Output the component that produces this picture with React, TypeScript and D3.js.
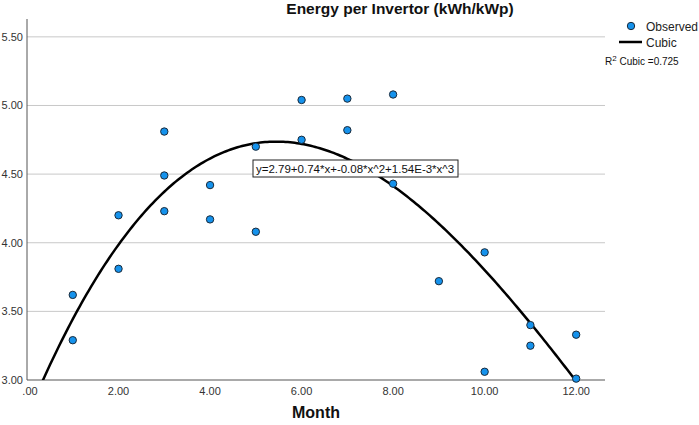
import React from 'react';
import * as d3 from 'd3';

const months = [1, 1, 2, 2, 3, 3, 3, 4, 4, 5, 5, 6, 6, 7, 7, 8, 8, 9, 10, 10, 11, 11, 12, 12];
const energy = [3.62, 3.29, 4.2, 3.81, 4.81, 4.49, 4.23, 4.42, 4.17, 4.7, 4.08, 5.04, 4.75, 5.05, 4.82, 5.08, 4.43, 3.72, 3.93, 3.06, 3.4, 3.25, 3.33, 3.01];
const xTicks = [0, 2, 4, 6, 8, 10, 12];
const yTicks = [3.0, 3.5, 4.0, 4.5, 5.0, 5.5];
const equationLabel = 'y=2.79+0.74*x+-0.08*x^2+1.54E-3*x^3';
const rSquared = '0.725';

const W = 699;
const H = 425;
const margin = { left: 27, top: 19, right: 94, bottom: 45 };
const font = '"Liberation Sans", Arial, sans-serif';

// least squares cubic, same as the SPSS curve fit
function fitCubic(xs: number[], ys: number[]) {
  const n = 4;
  const A: number[][] = Array.from({ length: n }, () => new Array(n + 1).fill(0));
  xs.forEach((x, k) => {
    for (let i = 0; i < n; i++) {
      for (let j = 0; j < n; j++) A[i][j] += Math.pow(x, i + j);
      A[i][n] += ys[k] * Math.pow(x, i);
    }
  });
  for (let c = 0; c < n; c++) {
    let p = c;
    for (let r = c + 1; r < n; r++) if (Math.abs(A[r][c]) > Math.abs(A[p][c])) p = r;
    [A[c], A[p]] = [A[p], A[c]];
    for (let r = 0; r < n; r++) {
      if (r === c) continue;
      const f = A[r][c] / A[c][c];
      for (let j = c; j <= n; j++) A[r][j] -= f * A[c][j];
    }
  }
  return A.map((row, i) => row[n] / row[i]);
}

export default function App() {
  const x = d3.scaleLinear().domain([0, 12.63]).range([margin.left, W - margin.right]);
  const y = d3.scaleLinear().domain([3.0, 5.63]).range([H - margin.bottom, margin.top]);

  const coef = fitCubic(months, energy);
  const curveXs = d3.range(0, 12.63, 0.05);
  const line = d3.line<number>()
    .x(d => x(d))
    .y(d => y(coef[0] + coef[1] * d + coef[2] * d * d + coef[3] * d * d * d));

  const [x0, x1] = x.range();
  const [y0, y1] = y.range();

  return (
    <svg width={W} height={H} style={{ position: 'absolute', left: 0, top: 0, background: '#fff' }} fontFamily={font}>
      <defs>
        <clipPath id="plot">
          <rect x={x0} y={y1} width={x1 - x0} height={y0 - y1} />
        </clipPath>
      </defs>
      <text x={400} y={14} textAnchor="middle" fontSize={15.5} fontWeight="bold" fill="#111">
        Energy per Invertor (kWh/kWp)
      </text>

      {yTicks.map(t => (
        <g key={t}>
          {t > 3 && <line x1={x0} x2={x1} y1={y(t)} y2={y(t)} stroke="#c8c8c8" strokeWidth={1} />}
          <text x={23} y={y(t)} dy="0.35em" textAnchor="end" fontSize={11} fill="#333">
            {t.toFixed(2)}
          </text>
        </g>
      ))}
      {xTicks.map(t => (
        <text key={t} x={x(t) + (t === 0 ? 3 : 0)} y={395} textAnchor="middle" fontSize={11} fill="#333">
          {t === 0 ? '.00' : t.toFixed(2)}
        </text>
      ))}

      <line x1={x0} x2={x0} y1={y1} y2={y0} stroke="#555" strokeWidth={1} />
      <line x1={x0} x2={x1} y1={y0} y2={y0} stroke="#555" strokeWidth={1} />

      <path d={line(curveXs) ?? ''} fill="none" stroke="#000" strokeWidth={2.5} clipPath="url(#plot)" />

      {months.map((m, i) => (
        <circle key={i} cx={x(m)} cy={y(energy[i])} r={3.7} fill="#1592ec" stroke="#1a2a3a" strokeWidth={1} />
      ))}

      <rect x={253} y={160} width={205} height={17} fill="#fff" stroke="#222" strokeWidth={1} />
      <text x={256} y={172.5} fontSize={11.5} fill="#111">{equationLabel}</text>

      <text x={316} y={418} textAnchor="middle" fontSize={16} fontWeight="bold" fill="#111">Month</text>

      <circle cx={631} cy={26} r={3.7} fill="#1592ec" stroke="#1a2a3a" strokeWidth={1} />
      <text x={646} y={31} fontSize={12} fill="#222">Observed</text>
      <line x1={619} x2={642} y1={42} y2={42} stroke="#000" strokeWidth={2.5} />
      <text x={646} y={46.5} fontSize={12} fill="#222">Cubic</text>
      <text x={605} y={65} fontSize={10} fill="#111">
        R<tspan dy={-4} fontSize={8}>2</tspan><tspan dy={4}> Cubic ={rSquared}</tspan>
      </text>
    </svg>
  );
}
